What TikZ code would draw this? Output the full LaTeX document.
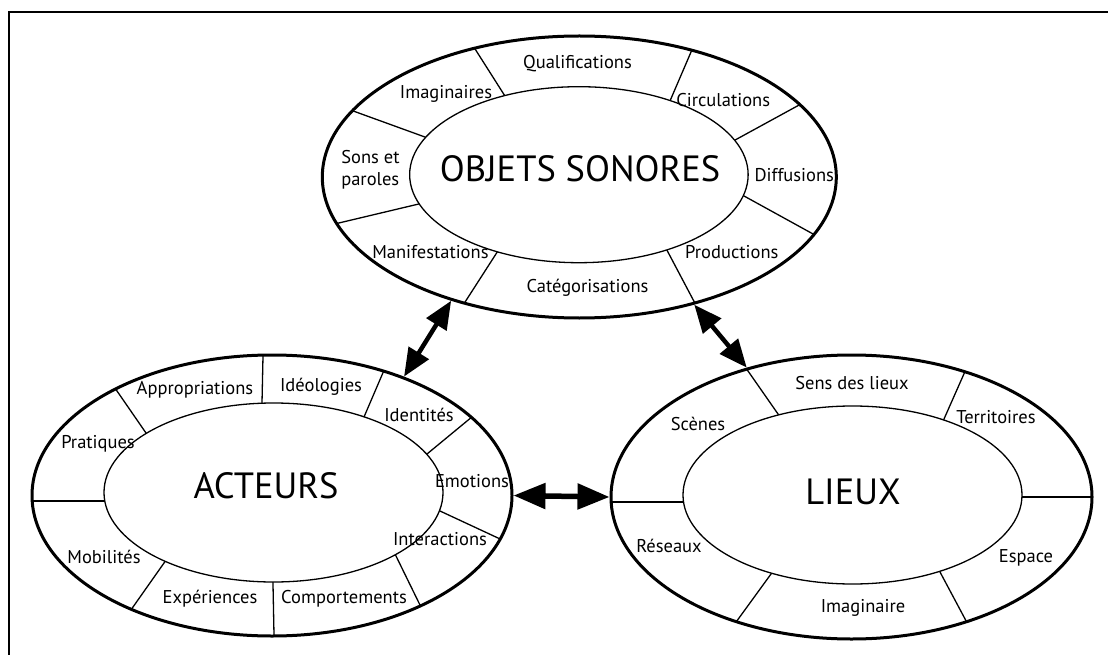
\documentclass[tikz,border=0pt]{standalone}
\usepackage{fontspec}
\setmainfont{PT Sans}
\usetikzlibrary{calc,arrows.meta,shapes.geometric}
\begin{document}
\begin{tikzpicture}[x=1pt,y=-1pt,
  divider/.style={line width=1.3pt},
  outerell/.style={ellipse,draw,line width=3pt,inner sep=0pt},
  innerell/.style={ellipse,draw,line width=1.3pt,fill=white,inner sep=0pt},
  lab/.style={font=\fontsize{18.5}{22.5}\selectfont,inner sep=0pt},
  big/.style={font=\fontsize{36.5}{42}\selectfont,inner sep=0pt},
  biarrow/.style={line width=4.5pt,{Triangle[length=28pt,width=23pt]}-{Triangle[length=28pt,width=23pt]}},
  hbiarrow/.style={line width=5.5pt,{Triangle[length=32pt,width=25pt]}-{Triangle[length=32pt,width=25pt]}}]
\useasboundingbox (0,0) rectangle (1108,655);
\fill[white] (0,0) rectangle (1108,655);
% frame
\draw[line width=2pt] (9,655) -- (9,12) -- (1108,12);

% ===== OBJETS SONORES =====
\coordinate (OSc) at (579.3,177);
\begin{scope}
\clip (OSc) ellipse [x radius=257pt, y radius=141pt];
\foreach \ix/\iy/\ox/\oy in {504.3/95/475.7/50, 670.4/100/689.3/56, 736.4/139.3/790/110, 746.4/197.3/810.7/232.7, 668.6/253.3/692.9/299.3, 496.4/253.3/466.8/299.3, 417.5/204.3/344.3/221.7, 425.7/137.3/357.9/112.7}
  \draw[divider] ($(\ix,\iy)!-0.4!(\ox,\oy)$) -- ($(\ix,\iy)!1.4!(\ox,\oy)$);
\end{scope}
\node[innerell,minimum width=338.5pt,minimum height=176pt] (OSi) at (578.9,174.7) {};
\node[outerell,minimum width=514pt,minimum height=282pt] (OS) at (OSc) {};

% ===== ACTEURS =====
\coordinate (ACc) at (272,495.5);
\begin{scope}
\clip (ACc) ellipse [x radius=240pt, y radius=140.5pt];
\foreach \ix/\iy/\ox/\oy in {146/433/117/391, 262/403/263/356, 364/417/382/375, 427/454/467/421, 440/511/498/538, 396/556/419/603, 273/584/274/635, 164/563/133/607, 104/501/32/501}
  \draw[divider] ($(\ix,\iy)!-0.4!(\ox,\oy)$) -- ($(\ix,\iy)!1.4!(\ox,\oy)$);
\end{scope}
\node[innerell,minimum width=339pt,minimum height=179pt] (ACi) at (273.5,492.5) {};
\node[outerell,minimum width=480pt,minimum height=281pt] (AC) at (ACc) {};

% ===== LIEUX =====
\coordinate (LIc) at (851.5,497);
\begin{scope}
\clip (LIc) ellipse [x radius=240.5pt, y radius=142pt];
\foreach \ix/\iy/\ox/\oy in {778/414/748/371, 944/419/963/376, 1022/497/1090/497, 940/572/964/617, 771/574/739/618, 684/502/611/502}
  \draw[divider] ($(\ix,\iy)!-0.4!(\ox,\oy)$) -- ($(\ix,\iy)!1.4!(\ox,\oy)$);
\end{scope}
\node[innerell,minimum width=339pt,minimum height=178pt] (LIi) at (852.5,495) {};
\node[outerell,minimum width=481pt,minimum height=284pt] (LI) at (LIc) {};

% ===== labels: OBJETS SONORES =====
\node[big] (tOS) at (580,168.3) {OBJETS SONORES};
\node[lab] (t1) at (577.5,64) {Qualifications};
\node[lab] (t2) at (723.2,100) {Circulations};
\node[lab] (t3) at (794.3,175) {Diffusions};
\node[lab] (t4) at (731.8,251.7) {Productions};
\node[lab] (t5) at (587.5,288.3) {Catégorisations};
\node[lab] (t6) at (430.4,252.3) {Manifestations};
\node[lab,align=left] (t7) at (370.4,170) {Sons et\\paroles};
\node[lab] (t8) at (446,94.3) {Imaginaires};

% ===== labels: ACTEURS =====
\node[big] (tAC) at (266,486) {ACTEURS};
\node[lab] (a1) at (195,390) {Appropriations};
\node[lab] (a2) at (321,387) {Idéologies};
\node[lab] (a3) at (419,415) {Identités};
\node[lab] (a4) at (472,481) {Emotions};
\node[lab] (a5) at (440,539) {Interactions};
\node[lab] (a6) at (344,599) {Comportements};
\node[lab] (a7) at (210,599) {Expériences};
\node[lab] (a8) at (104,557) {Mobilités};
\node[lab] (a9) at (98,444) {Pratiques};

% ===== labels: LIEUX =====
\node[big] (tLI) at (853,492) {LIEUX};
\node[lab] (b1) at (852,383) {Sens des lieux};
\node[lab] (b2) at (996,417) {Territoires};
\node[lab] (b3) at (1026,558) {Espace};
\node[lab] (b4) at (863,608) {Imaginaire};
\node[lab] (b5) at (669,546) {Réseaux};
\node[lab] (b6) at (698,424) {Scènes};

% ===== arrows =====
\draw[biarrow] (OS.224) -- (AC.42.5);
\draw[biarrow] (OS.312.3) -- (LI.129.5);
\draw[hbiarrow] (AC.0) -- (LI.180);
\end{tikzpicture}
\end{document}
